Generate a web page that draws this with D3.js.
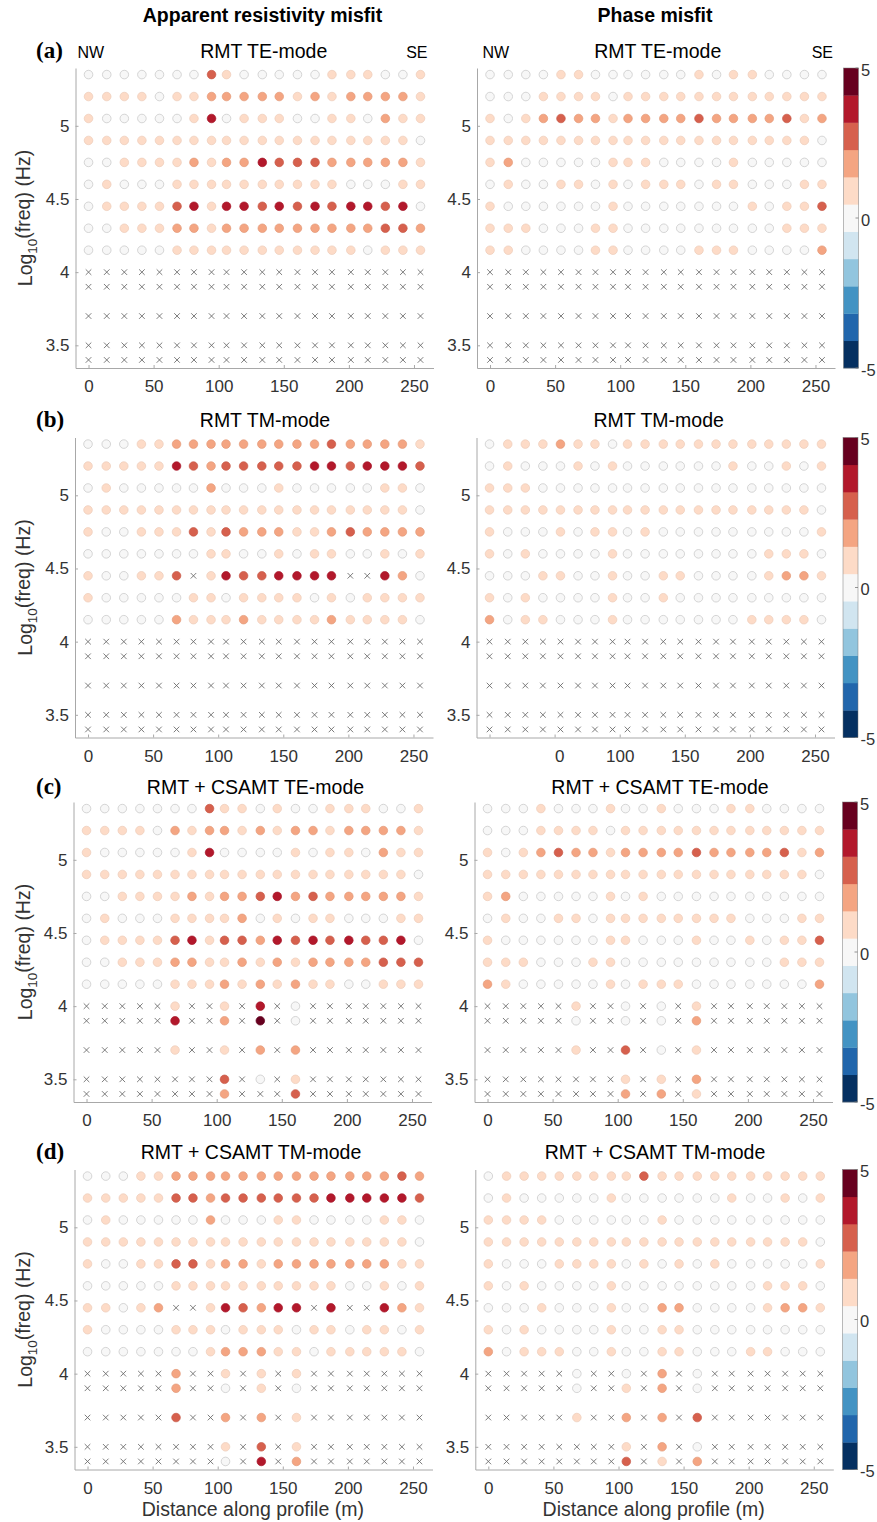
<!DOCTYPE html>
<html><head><meta charset="utf-8">
<script src="https://cdn.jsdelivr.net/npm/d3@7"></script>
<style>
body{margin:0;background:#fff}
svg text{font-family:"Liberation Sans",Arial,Helvetica,sans-serif}
</style>
</head><body>
<svg id="fig" width="877" height="1522"></svg>
<script>
// ---------- data ----------
const stations = [0, 14, 27.5, 41, 54.5, 68, 81, 94.5, 106, 119.5, 133.5, 146.5, 160.5, 174, 187, 201.5, 214.5, 228, 241.5, 255];
const logFreq = [5.35, 5.2, 5.05, 4.9, 4.75, 4.6, 4.45, 4.3, 4.15, 4.0, 3.9, 3.7, 3.5, 3.4];
// misfit class digit -> representative misfit value ('x' = no data)
const misfitOfClass = [0, 0.9, 1.8, 2.7, 3.6, 4.5];
const xTicks = [0, 50, 100, 150, 200, 250];
const yTicks = [3.5, 4, 4.5, 5];
const colorbarTicks = [5, 0, -5];
const columnHeaders = ["Apparent resistivity misfit", "Phase misfit"];
const rowTitles = ["RMT TE-mode", "RMT TM-mode", "RMT + CSAMT TE-mode", "RMT + CSAMT TM-mode"];
const rowLabels = ["(a)", "(b)", "(c)", "(d)"];
const NONE = "xxxxxxxxxxxxxxxxxxxx";

const rhoRmtTE = [
"00000003100000111001","11110112222212122221","10000014011100110211","11111111111111111110",
"00111121224333222221","01000111111111100011","01111341443434344340","00111221222222222332",
"00000111111111110111",NONE,NONE,NONE,NONE,NONE];
const phaseRmtTE = [
"00001100000010110000","00011110111111111111","10123221222232222312","11111111111111111110",
"12000001110000100000","01001101011101100011","10000001000000010113","11100011000000000111",
"11000011000011100002",NONE,NONE,NONE,NONE,NONE];
const rhoRmtTM = [
"00011222222222322221","11111432333334434443","01000002000100000110","11111111111111111110",
"10011131322211232222","00000001100101100101","100113x14334444xx420","10000011011110101111",
"00000211121111211110",NONE,NONE,NONE,NONE,NONE];
const phaseRmtTM = [
"01112110111111111111","01000101000000100101","11100000000000000000","11111111111111111110",
"10001011010000000001","10100001000000001110","00011001001100001221","10100001001000000000",
"20110001000000011110",NONE,NONE,NONE,NONE,NONE];
const rhoJointTE = [
"00000003110100111001","11110212212122122221","10000014000010110211","11111111111111111110",
"00111121223423222221","01000111120101100011","01111341332434343340","00111221121212222333",
"00000111212121100111","xxxxx1xx1x4x0xxxxxxx","xxxxx4xx2x5x0xxxxxxx","xxxxx1xx1x2x2xxxxxxx",
"xxxxxxxx3x0x1xxxxxxx","xxxxxxxx2xxx3xxxxxxx"];
const phaseJointTE = [
"00010001001000110000","00011110111111111111","10123221222232222312","11111111111111111110",
"12000001010000000000","01001101111111100011","10000001100010010113","11100011000000000111",
"21000001011100000002","xxxxx1xx0x0x1xxxxxxx","xxxxx0xx0x0x2xxxxxxx","xxxxx1xx3x0x1xxxxxxx",
"xxxxxxxx1x1x2xxxxxxx","xxxxxxxx2x2x1xxxxxxx"];
const rhoJointTM = [
"00011222222222222232","11111332333333444443","01000002000110000110","11111111111111111110",
"10011331221222222211","00000111111111100101","11012xx143244x4xx421","10000111011101101101",
"00000001222110111110","xxxxx2xx1x1x1xxxxxxx","xxxxx2xx0x1x0xxxxxxx","xxxxx3xx2x2x1xxxxxxx",
"xxxxxxxx1x3x1xxxxxxx","xxxxxxxx0x4x2xxxxxxx"];
const phaseJointTM = [
"01111111131111111111","01000001000000100101","11110000001000000000","11111111111111111110",
"10001111010101000001","10100001000000001110","00010001002200001221","10100001001100000000",
"20111001001100011000","xxxxx0xx0x2x0xxxxxxx","xxxxx0xx1x2x0xxxxxxx","xxxxx1xx2x2x3xxxxxxx",
"xxxxxxxx1x2x0xxxxxxx","xxxxxxxx3x1x2xxxxxxx"];

const panelData = [[rhoRmtTE, phaseRmtTE],[rhoRmtTM, phaseRmtTM],[rhoJointTE, phaseJointTE],[rhoJointTM, phaseJointTM]];

// ---------- layout ----------
const rowTop = [68, 437.5, 802, 1169.5];
const colX0 = [[75.5, 477], [75, 476.5], [73.5, 474.5], [74.5, 475.3]];
const cbarX = [843.5, 843, 842.5, 842.5];
const titleBase = [58, 427, 794, 1159];
const titleCx = [[263.7, 657.7], [265, 658.7], [255.5, 660], [251, 655]];
const W = 358, H = 300, CBW = 15;

const svg = d3.select("#fig");
const color = d3.scaleQuantize().domain([-5, 5]).range(d3.schemeRdBu[11].slice().reverse());

// column headers
svg.append("text").attr("x", 262.5).attr("y", 22).attr("text-anchor", "middle")
  .attr("font-weight", "bold").attr("font-size", "19.5px").attr("fill", "#000").text(columnHeaders[0]);
svg.append("text").attr("x", 655).attr("y", 22).attr("text-anchor", "middle")
  .attr("font-weight", "bold").attr("font-size", "19.5px").attr("fill", "#000").text(columnHeaders[1]);

for (let r = 0; r < 4; r++) {
  // row label
  svg.append("text").attr("x", 36).attr("y", titleBase[r])
    .style("font-family", "'Liberation Serif','Times New Roman',serif")
    .attr("font-weight", "bold").attr("font-size", "23px").attr("fill", "#000").text(rowLabels[r]);

  for (let c = 0; c < 2; c++) {
    const x0 = colX0[r][c], y0 = rowTop[r];
    const x = d3.scaleLinear().domain([-10, 265]).range([0, W]);
    const y = d3.scaleLinear().domain([3.345, 5.395]).range([H, 0]);
    const g = svg.append("g").attr("transform", `translate(${x0},${y0})`);

    // axes
    const ax = g.append("g").attr("transform", `translate(0,${H})`)
      .call(d3.axisBottom(x).tickValues(xTicks).tickSizeInner(-3).tickSizeOuter(0).tickPadding(12));
    const ay = g.append("g")
      .call(d3.axisLeft(y).tickValues(yTicks).tickFormat(d3.format("")).tickSizeInner(-3).tickSizeOuter(0).tickPadding(6));
    [ax, ay].forEach(a => {
      a.select(".domain").attr("stroke", "#a8a8a8");
      a.selectAll(".tick line").attr("stroke", "#a8a8a8");
      a.selectAll(".tick text").attr("fill", "#333").attr("font-size", "17px")
        .style("font-family", "'Liberation Sans',Arial,sans-serif");
    });
    if (r === 1 && c === 1) {
      // reference shows the first labels partly hidden
      ax.selectAll(".tick text").each(function(d) {
        if (d === 0) d3.select(this).text("");
        if (d === 50) d3.select(this).text("0").attr("x", 4.7);
      });
    }

    // marks
    const data = panelData[r][c];
    const pts = [];
    data.forEach((row, i) => {
      for (let j = 0; j < row.length; j++) {
        pts.push({ s: stations[j], f: logFreq[i], k: row[j] });
      }
    });
    const crosses = pts.filter(p => p.k === "x");
    const dots = pts.filter(p => p.k !== "x");
    const cs = 2.8;
    g.selectAll("path.cross").data(crosses).join("path").attr("class", "cross")
      .attr("d", p => {
        const px = x(p.s), py = y(p.f);
        return `M${px - cs},${py - cs}L${px + cs},${py + cs}M${px - cs},${py + cs}L${px + cs},${py - cs}`;
      })
      .attr("stroke", "#666").attr("stroke-width", 0.85).attr("fill", "none");
    g.selectAll("circle.dot").data(dots).join("circle").attr("class", "dot")
      .attr("cx", p => x(p.s)).attr("cy", p => y(p.f)).attr("r", 4.3)
      .attr("fill", p => color(misfitOfClass[+p.k]))
      .attr("stroke", p => +p.k === 0 ? "#c4c4c4" : d3.color(color(misfitOfClass[+p.k])).darker(0.2))
      .attr("stroke-width", 0.7);

    // title
    svg.append("text").attr("x", titleCx[r][c]).attr("y", titleBase[r]).attr("text-anchor", "middle")
      .attr("font-size", "19.5px").attr("fill", "#000").text(rowTitles[r]);

    if (r === 0) {
      svg.append("text").attr("x", x0 + x(-10) + (c === 0 ? 2 : 5.5)).attr("y", 58).attr("font-size", "16px").attr("fill", "#000").text("NW");
      svg.append("text").attr("x", x0 + (c === 0 ? 352 : 356)).attr("y", 58).attr("text-anchor", "end").attr("font-size", "16px").attr("fill", "#000").text("SE");
    }
    if (r === 3) {
      svg.append("text").attr("x", x0 + x(127)).attr("y", 1516).attr("text-anchor", "middle")
        .attr("font-size", "19.5px").attr("fill", "#333").text("Distance along profile (m)");
    }
    if (c === 0) {
      const t = svg.append("text").attr("transform", `translate(32,${y0 + H / 2}) rotate(-90)`)
        .attr("text-anchor", "middle").attr("font-size", "19.5px").attr("fill", "#333");
      t.append("tspan").text("Log");
      t.append("tspan").attr("font-size", "13.5px").attr("dy", "0.35em").text("10");
      t.append("tspan").attr("dy", "-0.35em").text("(freq) (Hz)");
    }
  }

  // colorbar
  const cb = svg.append("g").attr("transform", `translate(${cbarX[r]},${rowTop[r]})`);
  const cy = d3.scaleLinear().domain([-5, 5]).range([H, 0]);
  const bins = color.range().map((col, i) => ({ col, lo: -5 + i * 10 / 11, hi: -5 + (i + 1) * 10 / 11 }));
  cb.selectAll("rect.bin").data(bins).join("rect").attr("class", "bin")
    .attr("x", 0).attr("width", CBW).attr("y", b => cy(b.hi)).attr("height", b => cy(b.lo) - cy(b.hi) + 0.3)
    .attr("fill", b => b.col);
  cb.append("rect").attr("x", 0).attr("y", 0).attr("width", CBW).attr("height", H)
    .attr("fill", "none").attr("stroke", "#777").attr("stroke-width", 0.5);
  cb.selectAll("line.t").data(colorbarTicks).join("line").attr("class", "t")
    .attr("x1", CBW - 3).attr("x2", CBW).attr("y1", d => cy(d)).attr("y2", d => cy(d))
    .attr("stroke", "#777").attr("stroke-width", 0.8);
  cb.selectAll("text").data(colorbarTicks).join("text")
    .attr("x", CBW + 2.5).attr("y", d => cy(d) + 2).attr("dy", "0.35em")
    .attr("font-size", "16.5px").attr("fill", "#333").text(d => d);
}
</script>
</body></html>
